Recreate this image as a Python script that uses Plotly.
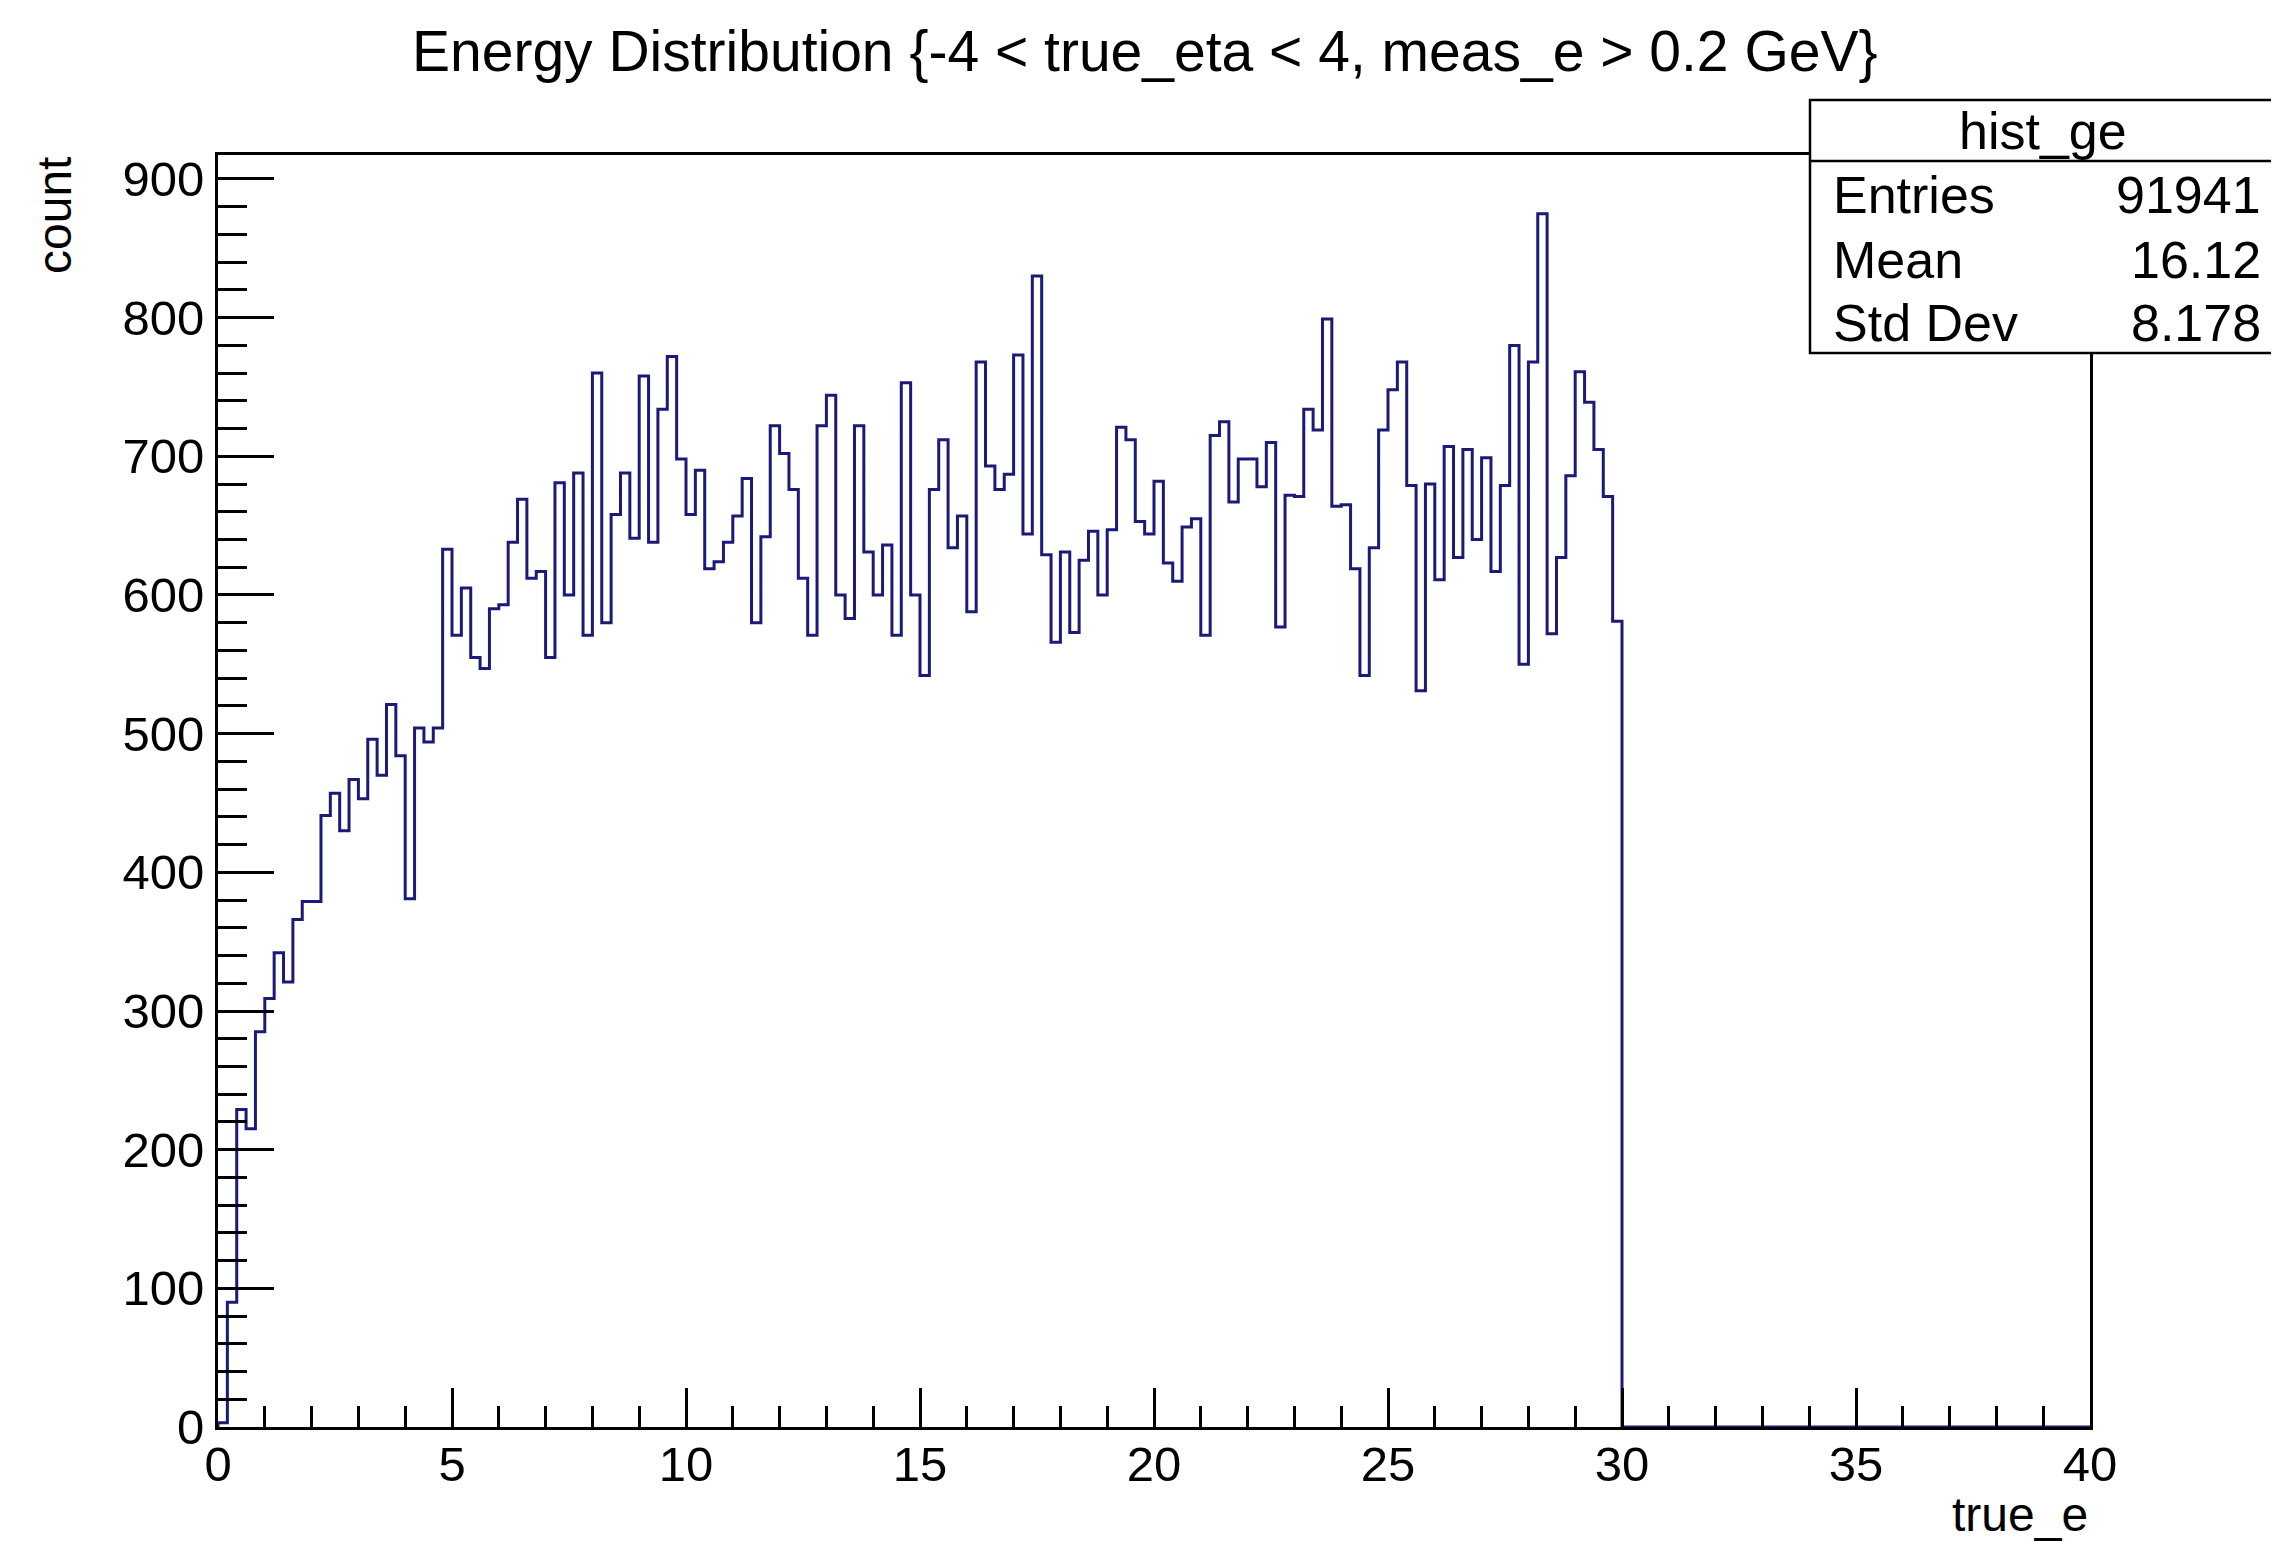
import plotly.graph_objects as go

# ---------------- data ----------------
x_min = 0.0
x_max = 40.0
n_bins = 200

# bin contents for bins 0..149 (true_e from 0 to 30 GeV, width 0.2); remaining bins are empty
counts = [
    3, 90, 229, 215, 285, 309, 342, 321, 366, 379, 379, 441, 457, 430, 467, 453, 496, 470, 521, 484,
    381, 504, 494, 504, 633,
    571, 605, 555, 547, 590, 593, 638, 669, 612, 617, 555, 681, 600, 688, 571, 760, 580, 658, 688, 641,
    758, 638, 734, 772, 698, 658,
    690, 619, 624, 638, 657, 684, 580, 642, 722, 702, 676, 612, 571, 722, 744, 600, 583, 722, 631, 600,
    636, 571, 753, 600, 542, 676, 712,
    634, 657, 588, 768, 693, 676, 687, 773, 644, 830, 629, 566, 631, 573, 625, 646, 600, 647, 721, 712,
    653, 644, 682, 623, 610,
    649, 655, 571, 715, 725, 667, 698, 698, 678, 710, 577, 672, 671, 734, 719, 799, 664, 665, 619, 542,
    634, 719, 748, 768, 679,
    531, 680, 611, 707, 627, 705, 640, 699, 617, 679, 780, 550, 768, 875, 572, 627, 686, 761, 739, 705,
    671, 581,
]

stats_title = "hist_ge"
stats_labels = ["Entries", "Mean", "Std Dev"]
stats_values = ["91941", "16.12", "8.178"]

title_text = "Energy Distribution {-4 < true_eta < 4, meas_e > 0.2 GeV}"
x_title = "true_e"
y_title = "count"

# ---------------- build histogram outline ----------------
bw = (x_max - x_min) / n_bins
contents = counts + [0] * (n_bins - len(counts))
edges = [x_min + i * bw for i in range(n_bins + 1)]
xs = [edges[0]] + edges[:-1] + [edges[-1]]
ys = [0] + contents + [0]

W, H = 2279, 1542
# frame in page pixels: x 218..2090, y 155..1427 ; page body has an 8px margin
OFF = 8
FX0, FX1, FY0, FY1 = 218, 2090, 155, 1427
pw = FX1 - FX0
ph = FY1 - FY0
L = FX0 - OFF
T = FY0 - OFF
R = W - L - pw
B = H - T - ph


def px(x):
    return (x - FX0) / pw


def py(y):
    return (FY1 - y) / ph


FONT = "Liberation Sans, Arial, Helvetica, sans-serif"
line_col = "#1a1a78"

fig = go.Figure()
fig.add_trace(go.Scatter(
    x=xs, y=ys, mode="lines", line=dict(shape="hv", color=line_col, width=3),
    hoverinfo="skip", showlegend=False,
))

fig.update_layout(
    width=W, height=H,
    margin=dict(l=L, r=R, t=T, b=B, pad=0),
    paper_bgcolor="white", plot_bgcolor="white",
    font=dict(family=FONT, color="black", size=49),
    showlegend=False,
)

fig.update_xaxes(
    range=[x_min, x_max], showgrid=False, zeroline=False,
    showline=True, linecolor="black", linewidth=3, mirror=True,
    ticks="inside", ticklen=39, tickwidth=2.5, tickcolor="black",
    tick0=0, dtick=5, tickfont=dict(size=49, family=FONT),
    ticklabelstandoff=-8,
    minor=dict(ticks="inside", dtick=1, ticklen=21, tickwidth=2.5, tickcolor="black", showgrid=False),
)
fig.update_yaxes(
    range=[0, 917.3], showgrid=False, zeroline=False,
    showline=True, linecolor="black", linewidth=3, mirror=True,
    ticks="inside", ticklen=56, tickwidth=2.5, tickcolor="black",
    tick0=0, dtick=100, tickfont=dict(size=49, family=FONT),
    ticklabelstandoff=1,
    minor=dict(ticks="inside", dtick=20, ticklen=29, tickwidth=2.5, tickcolor="black", showgrid=False),
)

annotations = [
    dict(text=title_text, x=px(1144), y=py(51), xref="paper", yref="paper",
         xanchor="center", yanchor="middle", showarrow=False, font=dict(size=57, family=FONT)),
    dict(text=x_title, x=px(2090), y=py(1514), xref="paper", yref="paper",
         xanchor="right", yanchor="middle", showarrow=False, font=dict(size=48, family=FONT)),
    dict(text=y_title, x=px(55), y=py(216), xref="paper", yref="paper", textangle=-90,
         xanchor="center", yanchor="middle", showarrow=False, font=dict(size=48, family=FONT)),
    dict(text=stats_title, x=px(2043), y=py(131), xref="paper", yref="paper",
         xanchor="center", yanchor="middle", showarrow=False, font=dict(size=52, family=FONT)),
]
row_y = [195, 260, 323]
for lab, val, ry in zip(stats_labels, stats_values, row_y):
    annotations.append(dict(text=lab, x=px(1831), y=py(ry), xref="paper", yref="paper",
                            xanchor="left", yanchor="middle", showarrow=False,
                            font=dict(size=52, family=FONT)))
    annotations.append(dict(text=val, x=px(2263), y=py(ry), xref="paper", yref="paper",
                            xanchor="right", yanchor="middle", showarrow=False,
                            font=dict(size=52, family=FONT)))
fig.update_layout(annotations=annotations)

fig.update_layout(shapes=[
    dict(type="rect", xref="paper", yref="paper", x0=px(1810), x1=px(2276), y0=py(353), y1=py(100),
         line=dict(color="black", width=2.5), fillcolor="white", layer="above"),
    dict(type="line", xref="paper", yref="paper", x0=px(1810), x1=px(2276), y0=py(161), y1=py(161),
         line=dict(color="black", width=2.5), layer="above"),
])

fig.write_html("out.html")
